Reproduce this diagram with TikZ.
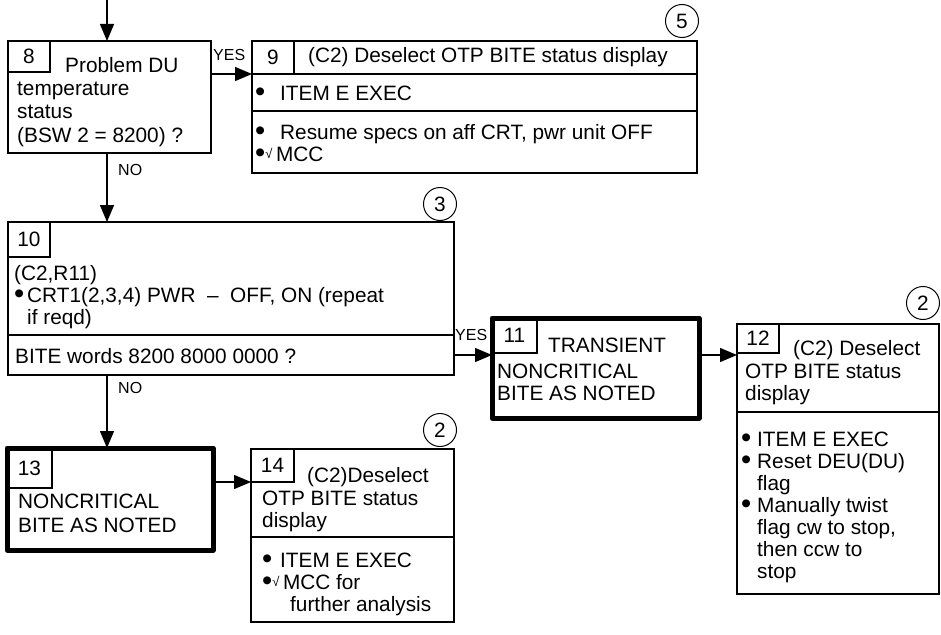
\documentclass[tikz,border=0pt]{standalone}
\usepackage{fontspec}
\setmainfont{Liberation Sans}
\usetikzlibrary{arrows.meta, positioning}
\newcommand{\bigdot}{\raisebox{-1.7pt}{\scalebox{1.4}{\textbullet}}}
\newcommand{\bul}[1]{\makebox[#1][l]{\bigdot}}
\newcommand{\chk}{\raisebox{3pt}{\fontsize{13}{13}\selectfont √}}

\begin{document}
\begin{tikzpicture}[x=1pt, y=-1pt,
  every node/.style={font=\fontsize{20.8}{22}\selectfont},
  box/.style={draw, line width=1.3pt, anchor=north west, inner sep=0pt, outer sep=0pt},
  hotbox/.style={box, line width=5pt, line join=round},
  numbox/.style={draw, line width=1.1pt, anchor=north west, inner sep=0pt, outer sep=0pt},
  txt/.style={anchor=base west, inner sep=0pt, align=left},
  tag/.style={circle, draw, line width=1pt, minimum size=33pt, inner sep=0pt},
  lbl/.style={anchor=base west, inner sep=0pt, font=\fontsize{16}{18}\selectfont},
  flow/.style={line width=1.3pt, -{Triangle[length=17pt, width=14pt]}}
]
\useasboundingbox (0,0) rectangle (941,634);
% multi-line texts are placed at the baseline of their last line

% block 8
\node[box, minimum width=203pt, minimum height=112pt] (b8) at (8,41) {};
\node[numbox, minimum width=42pt, minimum height=31pt] (n8) at (b8.north west) {8};
\node[txt] (t8a) at (65,72) {Problem DU};
\node[txt, font=\fontsize{20.8}{23.5}\selectfont] (t8b) at (17,142) {temperature\\status\\(BSW 2 = 8200) ?};

% block 9
\node[box, minimum width=445pt, minimum height=33pt] (b9a) at (252,41) {};
\node[box, minimum width=445pt, minimum height=37pt] (b9b) at (b9a.south west) {};
\node[box, minimum width=445pt, minimum height=62pt] (b9c) at (b9b.south west) {};
\node[numbox, minimum width=42pt, minimum height=33pt] (n9) at (b9a.north west) {9};
\node[txt] (t9a) at (308,63) {(C2) Deselect OTP BITE status display};
\node[txt] (t9b) at (255,100) {\bul{25pt}ITEM E EXEC};
\node[txt] (t9c) at (255,161) {\bul{25pt}Resume specs on aff CRT, pwr unit OFF\\\bigdot\chk\,MCC};
\node[tag] (c9) at (682,21) {5};

% block 10
\node[box, minimum width=446pt, minimum height=113pt] (b10a) at (8,222) {};
\node[box, minimum width=446pt, minimum height=40pt] (b10b) at (b10a.south west) {};
\node[numbox, minimum width=42pt, minimum height=35pt] (n10) at (b10a.north west) {10};
\node[txt] (t10a) at (14,324) {(C2,R11)\\\bul{13pt}CRT1(2,3,4) PWR ~–~ OFF, ON (repeat\\\hspace*{13pt}if reqd)};
\node[txt] (t10b) at (15,363) {BITE words 8200 8000 0000 ?};
\node[tag] (c10) at (440,204) {3};

% block 11
\node[hotbox, minimum width=207pt, minimum height=100pt] (b11) at (492,318) {};
\node[numbox, minimum width=45pt, minimum height=35pt] (n11) at (b11.north west) {11};
\node[txt] (t11a) at (548,352) {TRANSIENT};
\node[txt] (t11b) at (497,400) {NONCRITICAL\\BITE AS NOTED};

% block 12
\node[box, minimum width=202pt, minimum height=88pt] (b12a) at (737,324) {};
\node[box, minimum width=202pt, minimum height=182pt] (b12b) at (b12a.south west) {};
\node[numbox, minimum width=42pt, minimum height=29pt] (n12) at (b12a.north west) {12};
\node[txt] (t12a) at (793,355) {(C2) Deselect};
\node[txt] (t12b) at (745,400) {OTP BITE status\\display};
\node[txt] (t12c) at (741,578) {\bul{16pt}ITEM E EXEC\\\bul{16pt}Reset DEU(DU)\\\hspace*{16pt}flag\\\bul{16pt}Manually twist\\\hspace*{16pt}flag cw to stop,\\\hspace*{16pt}then ccw to\\\hspace*{16pt}stop};
\node[tag] (c12) at (923,303) {2};

% block 13
\node[hotbox, minimum width=206pt, minimum height=102pt] (b13) at (7,448) {};
\node[numbox, minimum width=45pt, minimum height=40pt] (n13) at (b13.north west) {13};
\node[txt, font=\fontsize{20.8}{24}\selectfont] (t13) at (18,532) {NONCRITICAL\\BITE AS NOTED};

% block 14
\node[box, minimum width=203pt, minimum height=88pt] (b14a) at (251,449) {};
\node[box, minimum width=203pt, minimum height=85pt] (b14b) at (b14a.south west) {};
\node[numbox, minimum width=43pt, minimum height=33pt] (n14) at (b14a.north west) {14};
\node[txt] (t14a) at (307,482) {(C2)Deselect};
\node[txt] (t14b) at (262,527) {OTP BITE status\\display};
\node[txt] (t14c) at (262,611) {\bul{18pt}ITEM E EXEC\\\bigdot\chk\,MCC for\\\hspace*{28pt}further analysis};
\node[tag] (c14) at (440,430) {2};

% connectors
\coordinate (top) at (107,0);
\draw[flow] (top) -- (top |- b8.north);
\draw[flow] (b8.east |- n9.south) -- (n9.south west);
\draw[flow] (b8.south -| top) -- (b10a.north -| top);
\draw[flow] (b10b.east) -- (b10b.east -| b11.west);
\draw[flow] (b11.east |- b10b.east) -- (b10b.east -| b12a.west);
\draw[flow] (b10b.south -| top) -- (b13.north -| top);
\draw[flow] (b13.east |- n14.south) -- (n14.south west);

\node[lbl] (yes1) at (213,60) {YES};
\node[lbl] (no1) at (118,175) {NO};
\node[lbl] (yes2) at (455,340) {YES};
\node[lbl] (no2) at (118,393) {NO};
\end{tikzpicture}
\end{document}
